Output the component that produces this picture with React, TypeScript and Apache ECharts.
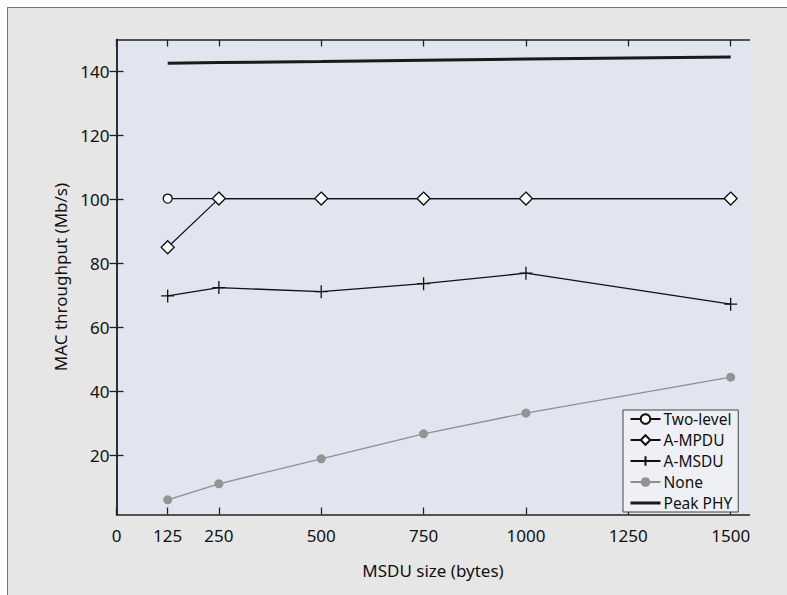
import React, { useEffect, useRef } from "react";
import * as echarts from "echarts";

const xValues = [125, 250, 500, 750, 1000, 1500];
const twoLevel = [100.3, 100.3, 100.3, 100.3, 100.3, 100.3];
const aMpdu = [85.1, 100.3, 100.3, 100.3, 100.3, 100.3];
const aMsdu = [69.9, 72.5, 71.2, 73.7, 77.0, 67.3];
const none = [6.2, 11.2, 19.0, 26.8, 33.3, 44.5];
const peakPhy = [142.6, 142.8, 143.1, 143.5, 143.9, 144.5];

const xTicks = [0, 125, 250, 500, 750, 1000, 1250, 1500];
const yTicks = [20, 40, 60, 80, 100, 120, 140];

const PLUS = "path://M5,0 L5,10 M0,5 L10,5";
const FONT = "Noto Sans";

const GRID = { left: 116.5, top: 39.5, right: 37.5, bottom: 80.5 };

function pairs(ys: number[]) {
  return xValues.map((x, i) => [x, ys[i]]);
}

export default function App() {
  const ref = useRef<HTMLDivElement>(null);
  useEffect(() => {
    if (!ref.current) return;
    const chart = echarts.init(ref.current, undefined, { renderer: "svg" });
    const axisLine = { show: true, lineStyle: { color: "#222", width: 1.5 } };
    const tickStyle = { show: true, inside: true, length: 7, lineStyle: { color: "#222", width: 1.3 } };
    const plain = (v: number) => String(v);
    chart.setOption({
      animation: false,
      textStyle: { fontFamily: FONT },
      grid: { ...GRID, show: false },
      legend: {
        orient: "vertical",
        left: 623,
        top: 410,
        data: [
          "Two-level",
          "A-MPDU",
          "A-MSDU",
          "None",
          { name: "Peak PHY", itemStyle: { opacity: 0 }, lineStyle: { width: 3 } },
        ],
        itemWidth: 30,
        itemHeight: 12,
        itemGap: 5,
        padding: [1, 6, 1, 6],
        backgroundColor: "#eef0f5",
        borderColor: "#444",
        borderWidth: 1,
        borderRadius: 0,
        textStyle: { fontSize: 15.5, color: "#111", fontFamily: FONT, padding: [0, 0, 0, -2] },
      },
      xAxis: [
        {
          type: "value",
          min: 0,
          max: 1546,
          name: "MSDU size (bytes)",
          nameLocation: "middle",
          nameGap: 47,
          nameTextStyle: { fontSize: 17, color: "#111", fontFamily: FONT },
          axisLine,
          axisTick: { ...tickStyle, customValues: xTicks },
          axisLabel: { customValues: xTicks, formatter: plain, fontSize: 17, color: "#111", margin: 12, fontFamily: FONT },
          splitLine: { show: false },
        },
        {
          type: "value",
          position: "top",
          min: 0,
          max: 1546,
          axisLine,
          axisTick: { ...tickStyle, customValues: xTicks },
          axisLabel: { show: false, customValues: xTicks },
          splitLine: { show: false },
        },
      ],
      yAxis: [
        {
          type: "value",
          min: 1.6,
          max: 150,
          name: "MAC throughput (Mb/s)",
          nameLocation: "middle",
          nameGap: 43,
          nameTextStyle: { fontSize: 17, color: "#111", fontFamily: FONT },
          axisLine,
          axisTick: { ...tickStyle, customValues: yTicks },
          axisLabel: { customValues: yTicks, formatter: plain, fontSize: 17, color: "#111", margin: 7, fontFamily: FONT },
          splitLine: { show: false },
        },
        {
          type: "value",
          position: "right",
          min: 1.6,
          max: 150,
          axisLine,
          axisTick: { ...tickStyle, customValues: yTicks },
          axisLabel: { show: false, customValues: yTicks },
          splitLine: { show: false },
        },
      ],
      series: [
        {
          name: "Two-level",
          type: "line",
          data: pairs(twoLevel),
          symbol: "circle",
          symbolSize: 9,
          lineStyle: { color: "#111", width: 1.2 },
          itemStyle: { color: "#ffffff", borderColor: "#111", borderWidth: 1.3 },
        },
        {
          name: "A-MPDU",
          type: "line",
          data: pairs(aMpdu),
          symbol: "diamond",
          symbolSize: 13,
          lineStyle: { color: "#111", width: 1.2 },
          itemStyle: { color: "#ffffff", borderColor: "#111", borderWidth: 1.3 },
        },
        {
          name: "A-MSDU",
          type: "line",
          data: pairs(aMsdu),
          symbol: PLUS,
          symbolSize: 13,
          lineStyle: { color: "#111", width: 1.3 },
          itemStyle: { color: "none", borderColor: "#111", borderWidth: 1.3 },
        },
        {
          name: "None",
          type: "line",
          data: pairs(none),
          symbol: "circle",
          symbolSize: 9,
          lineStyle: { color: "#8f8f8f", width: 1.3 },
          itemStyle: { color: "#939393", borderWidth: 0 },
        },
        {
          name: "Peak PHY",
          type: "line",
          data: pairs(peakPhy),
          symbol: "none",
          showSymbol: false,
          lineStyle: { color: "#1a1a1a", width: 3 },
          itemStyle: { color: "#1a1a1a" },
        },
      ],
    });
    return () => chart.dispose();
  }, []);

  return (
    <div style={{ position: "fixed", left: 0, top: 0, width: 787, height: 595, overflow: "hidden", background: "#ffffff" }}>
      <div
        style={{
          position: "absolute",
          left: 7,
          top: 7,
          width: 820,
          height: 620,
          background: "#e6e6e7",
          border: "1.5px solid #777",
        }}
      />
      <div
        style={{
          position: "absolute",
          left: GRID.left,
          top: GRID.top,
          width: 787 - GRID.left - GRID.right,
          height: 595 - GRID.top - GRID.bottom,
          background: "#e1e5f0",
        }}
      />
      <div ref={ref} style={{ position: "absolute", left: 0, top: 0, width: 787, height: 595 }} />
    </div>
  );
}
